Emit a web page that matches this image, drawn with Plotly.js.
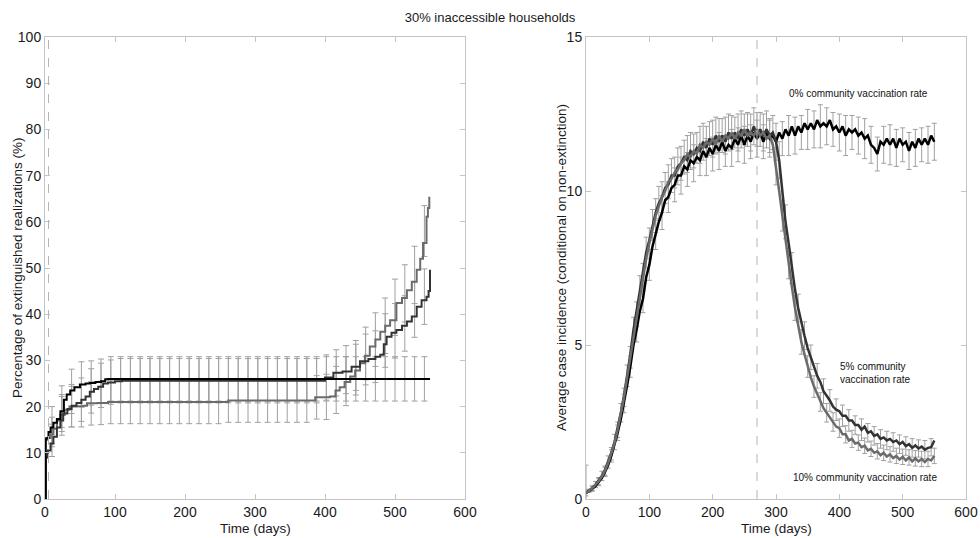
<!DOCTYPE html>
<html>
<head>
<meta charset="utf-8">
<script src="https://cdn.plot.ly/plotly-3.0.1.min.js"></script>
<style>html,body{margin:0;padding:0;background:#fff;}#chart{width:980px;height:538px;}</style>
</head>
<body>
<div id="chart"></div>
<script>
// ---------- Left panel: percentage of extinguished realizations ----------
const L_BLACK_DAYS = [0,1,2,5,8,12,17,22,27,31,36,42,50,58,64,72,80,86,90,550];
const L_BLACK_VALS = [0,13,13.2,14.5,15.5,16.5,17.3,19,21.5,22.6,23.5,24.2,24.8,25,25.1,25.3,25.5,25.9,26,26];

const L_DARK_DAYS = [0,1,4,8,12,17,22,26,32,38,45,52,58,64,70,76,83,90,100,110,388,400,412,425,438,450,462,472,479,484,488,495,502,510,517,524,531,538,545,548,550];
const L_DARK_VALS = [0,9,10.5,12,13.5,15.5,17,18.5,19.5,20.2,20.8,21.5,22.2,23.2,23.8,24.3,25,25.2,25.5,25.6,25.6,26.3,27.3,27.6,28.6,29.8,30.3,30.8,31.2,33.5,35.1,36,36.6,37.5,38.4,39.5,41.6,43,43.8,45,49.6];

const L_GRAY_DAYS = [0,1,4,8,12,17,22,28,35,45,55,60,75,90,262,380,386,407,415,421,428,436,443,450,457,464,472,479,486,493,502,510,517,524,531,536,540,545,547,549];
const L_GRAY_VALS = [0,12.8,13.2,14,15.2,17,18.2,19.3,20,20.1,20.2,20.7,20.8,21,21.3,21.3,22,22.2,23.5,24.2,25.3,26.5,27.8,29.4,31,33,34.5,36.2,37.5,38.7,42.4,43.5,45.2,47,49.6,52,55.4,61.1,63,65.4];

const L_ERR_DAYS = [10,24,38,52,66,80,94,108,122,136,150,164,178,192,206,220,234,248,262,276,290,304,318,332,346,360,374,388,402,416,430,444,458,472,486,500,514,528,542];
const L_BLACK_ERR_C = [16,20,23.3,24.8,25.1,25.5,26,26,26,26,26,26,26,26,26,26,26,26,26,26,26,26,26,26,26,26,26,26,26,26,26,26,26,26,26,26,26,26,26];
const L_BLACK_ERR = [4.0,4.5,4.8,4.9,4.8,4.8,4.8,4.8,4.8,4.8,4.8,4.8,4.8,4.8,4.8,4.8,4.8,4.8,4.8,4.8,4.8,4.8,4.8,4.8,4.8,4.8,4.8,4.8,4.8,4.8,4.8,4.8,4.8,4.8,4.8,4.8,4.8,4.8,4.8];
const L_DARK_ERR_C = [12.7,18,20.2,21.5,23.4,24.6,25.3,25.6,25.6,25.6,25.6,25.6,25.6,25.6,25.6,25.6,25.6,25.6,25.6,25.6,25.6,25.6,25.6,25.6,25.6,25.6,25.6,25.6,26.3,27.3,28,28.9,30.2,30.8,34.3,36.4,38,41,43.8];
const L_DARK_ERR = [3.5,4.2,4.6,4.7,4.8,4.8,4.8,4.8,4.8,4.8,4.8,4.8,4.8,4.8,4.8,4.8,4.8,4.8,4.8,4.8,4.8,4.8,4.8,4.8,4.8,4.8,4.8,4.8,4.9,5,5.2,5.4,5.5,5.6,5.8,5.9,6,6,6];
const L_GRAY_ERR_C = [14.5,18.6,20,20.2,20.7,20.8,21,21,21,21,21,21,21,21,21,21,21,21,21.3,21.3,21.3,21.3,21.3,21.3,21.3,21.3,21.3,22,22.1,23.6,25.5,28,31.5,34.5,37.5,41.5,44.5,48.5,58];
const L_GRAY_ERR = [3.2,4,4.4,4.6,4.7,4.7,4.7,4.7,4.7,4.7,4.7,4.7,4.7,4.7,4.7,4.7,4.7,4.7,4.7,4.7,4.7,4.7,4.7,4.7,4.7,4.7,4.7,4.7,4.9,5.1,5.3,5.5,5.7,5.8,6,6.1,6.2,6.2,5.5];

// ---------- Right panel: average case incidence ----------
const R_DAYS = [0,5,10,15,20,25,30,35,40,45,
  50,55,60,65,70,75,80,85,90,95,
  100,105,110,115,120,125,130,135,140,145,
  150,155,160,165,170,175,180,185,190,195,
  200,205,210,215,220,225,230,235,240,245,
  250,255,260,265,270,275,280,285,290,295,
  300,305,310,315,320,325,330,335,340,345,
  350,355,360,365,370,375,380,385,390,395,
  400,405,410,415,420,425,430,435,440,445,
  450,455,460,465,470,475,480,485,490,495,
  500,505,510,515,520,525,530,535,540,545,
  550];
const R_V0 = [0.2,0.25,0.33,0.42,0.55,0.68,0.88,1.1,1.4,1.75,
  2.15,2.6,3.1,3.7,4.3,5.0,5.5,6.1,6.5,7.2,
  7.6,8.2,8.6,9.0,9.3,9.7,9.8,10.1,10.2,10.5,
  10.5,10.8,10.7,11.0,10.9,11.1,11.0,11.3,11.1,11.4,
  11.2,11.5,11.3,11.6,11.3,11.5,11.4,11.7,11.5,11.8,
  11.5,11.8,11.6,11.9,11.7,11.9,11.6,11.9,11.7,11.8,
  11.6,11.9,11.7,12.0,11.8,12.1,11.8,12.1,11.9,12.2,
  12.0,12.2,12.0,12.3,12.1,12.2,12.1,12.3,12.0,12.1,
  11.9,12.1,11.8,12.0,11.9,12.0,11.8,11.9,11.7,11.8,
  11.5,11.4,11.2,11.6,11.5,11.7,11.5,11.7,11.4,11.7,
  11.5,11.6,11.3,11.6,11.4,11.7,11.5,11.7,11.5,11.8,
  11.6];
const R_V5 = [0.2,0.27,0.36,0.47,0.6,0.75,0.95,1.2,1.5,1.85,
  2.3,2.8,3.35,4.0,4.7,5.5,6.1,6.8,7.3,8.0,
  8.4,8.9,9.3,9.6,9.8,10.1,10.2,10.5,10.5,10.8,
  10.9,11.1,11.0,11.3,11.2,11.4,11.3,11.6,11.4,11.7,
  11.5,11.8,11.6,11.8,11.6,11.9,11.7,11.9,11.7,12.0,
  11.8,12.0,11.8,12.1,11.8,12.0,11.8,12.0,11.8,11.9,
  11.6,11.0,10.0,9.0,8.3,7.5,6.8,6.2,5.7,5.3,
  4.9,4.6,4.3,4.0,3.8,3.5,3.35,3.2,3.0,2.9,
  2.85,2.7,2.7,2.55,2.55,2.4,2.4,2.25,2.35,2.15,
  2.2,2.05,2.1,1.95,2.0,1.9,1.95,1.85,1.9,1.78,
  1.85,1.72,1.78,1.66,1.74,1.64,1.7,1.6,1.66,1.68,
  1.9];
const R_V10 = [0.2,0.26,0.35,0.46,0.58,0.73,0.92,1.17,1.47,1.82,
  2.25,2.75,3.3,3.95,4.6,5.35,6.0,6.6,7.2,7.8,
  8.3,8.8,9.2,9.5,9.8,10.0,10.3,10.4,10.6,10.7,
  10.9,11.0,11.2,11.1,11.3,11.2,11.5,11.4,11.6,11.5,
  11.7,11.5,11.8,11.6,11.8,11.7,11.9,11.7,11.9,11.8,
  12.0,11.8,11.9,11.8,12.0,11.8,11.9,11.7,11.8,11.5,
  10.8,10.0,9.2,8.4,7.6,6.9,6.2,5.6,5.1,4.7,
  4.3,3.95,3.65,3.4,3.15,2.95,2.8,2.65,2.5,2.35,
  2.3,2.1,2.1,1.9,1.95,1.8,1.83,1.68,1.73,1.58,
  1.63,1.5,1.55,1.42,1.5,1.38,1.45,1.33,1.4,1.28,
  1.37,1.25,1.35,1.22,1.32,1.22,1.3,1.2,1.3,1.25,
  1.4];

const R_ERR_DAYS_A = [0,10,20,30,40,50,60,70,80,90,100,110,120,130,140,150,160,170,180,190,200,210,220,230,240,250,260,270,280,290,300,310,320,330,340,350,360,370,380,390,400,410,420,430,440,450,460,470,480,490,500,510,520,530,540,550];
const R_ERR_DAYS_B = [5,15,25,35,45,55,65,75,85,95,105,115,125,135,145,155,165,175,185,195,205,215,225,235,245,255,265,275,285,295,305,315,325,335,345,355,365,375,385,395,405,415,425,435,445,455,465,475,485,495,505,515,525,535,545];
const R_ERR0 = [0.9,0.08,0.12,0.15,0.2,0.25,0.3,0.35,0.4,0.45,
  0.5,0.5,0.55,0.5,0.55,0.6,0.55,0.6,0.5,0.6,
  0.55,0.6,0.5,0.6,0.55,0.6,0.55,0.6,0.55,0.6,
  0.6,0.55,0.65,0.6,0.55,0.65,0.6,0.7,0.6,0.55,
  0.6,0.65,0.55,0.6,0.65,0.6,0.55,0.6,0.65,0.6,
  0.55,0.6,0.6,0.55,0.6,0.6];
const R_ERR5 = [0.05,0.1,0.15,0.2,0.25,0.3,0.35,0.4,0.45,0.5,
  0.5,0.55,0.5,0.55,0.6,0.55,0.6,0.5,0.6,0.55,
  0.6,0.55,0.6,0.5,0.6,0.55,0.6,0.55,0.6,0.55,
  0.6,0.55,0.5,0.45,0.45,0.4,0.4,0.4,0.35,0.35,
  0.35,0.35,0.3,0.35,0.3,0.3,0.3,0.3,0.3,0.3,
  0.3,0.3,0.28,0.3,0.28];
const R_ERR10 = [0.1,0.08,0.12,0.15,0.2,0.25,0.3,0.35,0.4,0.45,
  0.5,0.55,0.5,0.55,0.5,0.55,0.6,0.55,0.6,0.5,
  0.6,0.55,0.6,0.55,0.6,0.5,0.6,0.55,0.6,0.55,
  0.6,0.5,0.45,0.4,0.4,0.35,0.35,0.3,0.3,0.3,
  0.3,0.28,0.28,0.25,0.25,0.25,0.25,0.25,0.25,0.25,
  0.25,0.25,0.25,0.25,0.25,0.25];

const LABELS = ['0% community vaccination rate','5% community<br>vaccination rate','10% community vaccination rate'];
const TITLE = '30% inaccessible households';
const X_TITLE = 'Time (days)';
const Y1_TITLE = 'Percentage of extinguished realizations (%)';
const Y2_TITLE = 'Average case incidence (conditional on non-extinction)';

// ---------- build ----------
const C0 = '#000000', C5 = '#333333', C10 = '#6b6b6b', CE = '#a0a0a0';
function at(series, days) { return days.map(d => series[R_DAYS.indexOf(d)]); }
function errTrace(x, y, e, xa, ya, w) {
  return {x:x, y:y, xaxis:xa, yaxis:ya, type:'scatter', mode:'markers',
    marker:{size:1, color:'rgba(0,0,0,0)'}, showlegend:false, hoverinfo:'skip',
    error_y:{type:'data', array:e, visible:true, color:CE, thickness:1, width:w}};
}
function lineTrace(x, y, c, w, xa, ya, shape) {
  return {x:x, y:y, xaxis:xa, yaxis:ya, type:'scatter', mode:'lines',
    line:{color:c, width:w, shape:shape||'linear'}, showlegend:false, hoverinfo:'skip'};
}
const traces = [
  errTrace(L_ERR_DAYS, L_GRAY_ERR_C, L_GRAY_ERR, 'x', 'y', 3),
  errTrace(L_ERR_DAYS, L_DARK_ERR_C, L_DARK_ERR, 'x', 'y', 3),
  errTrace(L_ERR_DAYS, L_BLACK_ERR_C, L_BLACK_ERR, 'x', 'y', 3),
  lineTrace(L_GRAY_DAYS, L_GRAY_VALS, C10, 2, 'x', 'y', 'hv'),
  lineTrace(L_DARK_DAYS, L_DARK_VALS, C5, 2, 'x', 'y', 'hv'),
  lineTrace(L_BLACK_DAYS, L_BLACK_VALS, C0, 2, 'x', 'y', 'hv'),
  errTrace(R_ERR_DAYS_A, at(R_V0, R_ERR_DAYS_A), R_ERR0, 'x2', 'y2', 2.5),
  errTrace(R_ERR_DAYS_B, at(R_V5, R_ERR_DAYS_B), R_ERR5, 'x2', 'y2', 2.5),
  errTrace(R_ERR_DAYS_A, at(R_V10, R_ERR_DAYS_A), R_ERR10, 'x2', 'y2', 2.5),
  lineTrace(R_DAYS, R_V0, C0, 2.5, 'x2', 'y2'),
  lineTrace(R_DAYS, R_V5, C5, 2.5, 'x2', 'y2'),
  lineTrace(R_DAYS, R_V10, C10, 2.5, 'x2', 'y2')
];

const FONT = 'Liberation Sans, Arial, Helvetica, sans-serif';
const YB = 39/538, YT = 501/538;
const YMID = (YB + YT) / 2;
function ax(extra) {
  return Object.assign({showline:true, mirror:'ticks', linecolor:'#c4c4c4', linewidth:1,
    ticks:'inside', ticklen:5, tickcolor:'#c4c4c4', showgrid:false, zeroline:false,
    tickfont:{size:14, color:'#1a1a1a', family:FONT}, fixedrange:true}, extra);
}
const TF = {size:13.5, color:'#1a1a1a'};
const layout = {
  width:980, height:538, paper_bgcolor:'#fff', plot_bgcolor:'#fff',
  margin:{l:0, r:0, t:0, b:0}, showlegend:false,
  font:{family:FONT, color:'#1a1a1a'},
  title:{text:TITLE, x:0.5, xanchor:'center', y:1-17/538, yanchor:'middle', font:{size:13, color:'#1a1a1a'}},
  xaxis: ax({domain:[45/980, 465/980], range:[0,600], dtick:100, anchor:'y'}),
  yaxis: ax({domain:[YB, YT], range:[0,100], dtick:10, anchor:'x'}),
  xaxis2: ax({domain:[586/980, 966/980], range:[0,600], dtick:100, anchor:'y2'}),
  yaxis2: ax({domain:[YB, YT], range:[0,15], dtick:5, anchor:'x2'}),
  shapes:[
    {type:'line', xref:'x', yref:'paper', x0:5, x1:5, y0:YB, y1:YT, line:{color:'#b5b5b5', width:1, dash:'dash'}},
    {type:'line', xref:'x2', yref:'paper', x0:270, x1:270, y0:YB, y1:YT, line:{color:'#b5b5b5', width:1, dash:'dash'}}
  ],
  annotations:[
    {xref:'paper', yref:'paper', x:255/980, y:10/538, text:X_TITLE, showarrow:false, xanchor:'center', yanchor:'middle', font:TF},
    {xref:'paper', yref:'paper', x:776/980, y:10/538, text:X_TITLE, showarrow:false, xanchor:'center', yanchor:'middle', font:TF},
    {xref:'paper', yref:'paper', x:17/980, y:YMID, text:Y1_TITLE, textangle:-90, showarrow:false, xanchor:'center', yanchor:'middle', font:TF},
    {xref:'paper', yref:'paper', x:561/980, y:YMID, text:Y2_TITLE, textangle:-90, showarrow:false, xanchor:'center', yanchor:'middle', font:TF},
    {xref:'x2', yref:'y2', x:431, y:13.15, text:LABELS[0], showarrow:false, xanchor:'center', yanchor:'middle', font:{size:10, color:'#111'}},
    {xref:'x2', yref:'y2', x:398, y:4.1, text:LABELS[1], showarrow:false, xanchor:'left', yanchor:'middle', align:'left', font:{size:10, color:'#111'}},
    {xref:'x2', yref:'y2', x:441, y:0.69, text:LABELS[2], showarrow:false, xanchor:'center', yanchor:'middle', font:{size:10, color:'#111'}}
  ]
};
Plotly.newPlot('chart', traces, layout, {displayModeBar:false, staticPlot:true});
</script>
</body>
</html>
